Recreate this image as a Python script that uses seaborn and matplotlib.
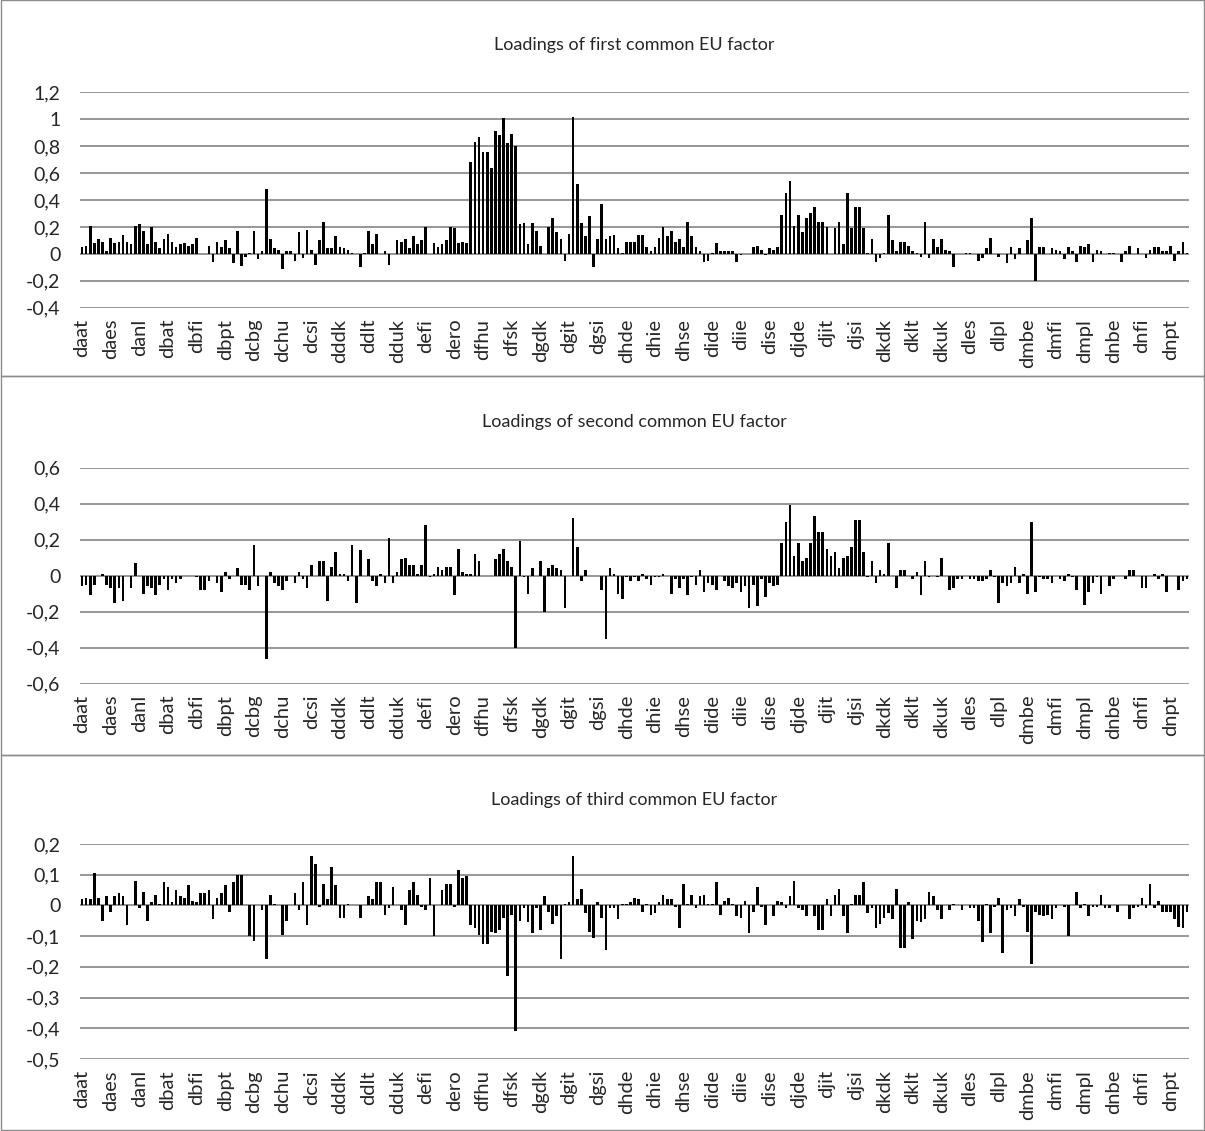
import numpy as np
import pandas as pd
import matplotlib
matplotlib.use("Agg")
import matplotlib.pyplot as plt
import seaborn as sns
from matplotlib.patches import Rectangle
from matplotlib.ticker import FuncFormatter, FixedLocator

# ---------------- data ----------------
tick_labels = ["daat", "daes", "danl", "dbat", "dbfi", "dbpt", "dcbg", "dchu", "dcsi",
               "dddk", "ddlt", "dduk", "defi", "dero", "dfhu", "dfsk", "dgdk", "dgit",
               "dgsi", "dhde", "dhie", "dhse", "dide", "diie", "dise", "djde", "djit",
               "djsi", "dkdk", "dklt", "dkuk", "dles", "dlpl", "dmbe", "dmfi", "dmpl",
               "dnbe", "dnfi", "dnpt"]
label_step = 7

titles = ["Loadings of first common EU factor",
          "Loadings of second common EU factor",
          "Loadings of third common EU factor"]

factor1 = [
    0.05, 0.06, 0.21, 0.08, 0.11, 0.09, 0.02, 0.12, 0.08, 0.09,
    0.14, 0.09, 0.07, 0.21, 0.22, 0.17, 0.07, 0.20, 0.09, 0.04,
    0.11, 0.15, 0.09, 0.05, 0.07, 0.08, 0.06, 0.07, 0.12, 0.0,
    0.0, 0.06, -0.06, 0.09, 0.05, 0.10, 0.04, -0.07, 0.17, -0.09,
    -0.02, 0.01, 0.17, -0.04, 0.02, 0.48, 0.11, 0.04, 0.03, -0.11,
    0.02, 0.02, -0.05, 0.16, -0.03, 0.18, 0.03, -0.08, 0.10, 0.24,
    0.04, 0.04, 0.13, 0.05,
    0.04, 0.03, 0.01, 0.0, -0.10, 0.01, 0.17, 0.07, 0.15, 0.0,
    0.02, -0.08, 0.0, 0.10, 0.09, 0.11, 0.04, 0.13, 0.07, 0.10,
    0.20, 0.0, 0.08, 0.05, 0.07, 0.10, 0.20, 0.19, 0.08, 0.09,
    0.08, 0.68, 0.83, 0.87, 0.76, 0.76, 0.64, 0.91, 0.88, 1.01,
    0.82, 0.89, 0.80, 0.22, 0.23, 0.07, 0.23, 0.17, 0.06, 0.0,
    0.20, 0.27, 0.16, 0.11, -0.05, 0.15, 1.02, 0.52, 0.23, 0.13,
    0.28, -0.10, 0.11, 0.37, 0.11, 0.13, 0.14, 0.04, 0.01, 0.09,
    0.09, 0.09, 0.14,
    0.14, 0.05, 0.02, 0.05, 0.12, 0.20, 0.13,
    0.17, 0.09, 0.11, 0.05, 0.24, 0.13, 0.05, 0.02, -0.06, -0.05,
    0.01, 0.08, 0.02, 0.02, 0.02, 0.02, -0.06, -0.01, 0.0, 0.0,
    0.05, 0.06, 0.03, -0.01, 0.04, 0.03, 0.05, 0.29, 0.45, 0.54,
    0.21, 0.29, 0.16, 0.27, 0.30, 0.35, 0.24, 0.24, 0.20, 0.0,
    0.19, 0.24, 0.07, 0.45, 0.19, 0.35, 0.35, 0.19, 0.01, 0.11,
    -0.06, -0.03, 0.01, 0.29, 0.10, 0.02, 0.09, 0.09, 0.06, 0.02,
    0.01, -0.02, 0.24, -0.03,
    0.11, 0.05, 0.11, 0.03, 0.02, -0.10, 0.0,
    0.0, 0.01, 0.01, 0.0, -0.05, -0.03, 0.04, 0.12, 0.0, -0.02,
    0.0, -0.07, 0.05, -0.04, 0.04, 0.0, 0.10, 0.27, -0.20, 0.05,
    0.05, 0.0, 0.04, 0.03, 0.02, -0.04, 0.05, 0.02, -0.06, 0.06,
    0.05, 0.07, -0.06, 0.03, 0.02, 0.0, 0.01, 0.01, 0.0, -0.06,
    0.02, 0.06, 0.0, 0.04, 0.0, -0.03, 0.03, 0.05, 0.05, 0.02,
    0.02, 0.06, -0.05, 0.02, 0.09, 0.01,
]

factor2 = [
    -0.06, -0.05, -0.11, -0.05, 0.0, 0.01, -0.05, -0.07, -0.15, -0.07,
    -0.14, 0.0, -0.07, 0.07, 0.0, -0.10, -0.06, -0.07, -0.11, -0.05,
    -0.02, -0.08, -0.02, -0.04, -0.02, 0.0, 0.0, 0.0, -0.01, -0.08,
    -0.08, -0.03, 0.0, -0.04, -0.09, 0.02, -0.02, 0.0, 0.04, -0.05,
    -0.05, -0.08, 0.17, -0.06, 0.0, -0.46, 0.02, -0.04, -0.06, -0.08,
    -0.03, 0.0, -0.04, 0.02, -0.02, -0.07, 0.06, 0.0, 0.08, 0.08,
    -0.14, 0.05, 0.13, 0.01,
    0.01, -0.03, 0.17, -0.15, 0.14, 0.0, 0.09, -0.03, -0.06, 0.01,
    -0.04, 0.21, -0.04, 0.02, 0.09, 0.10, 0.06, 0.06, 0.01, 0.06,
    0.28, -0.01, 0.01, 0.05, 0.03, 0.05, 0.05, -0.11, 0.15, 0.02,
    0.01, 0.01, 0.12, 0.08, 0.0, 0.0, 0.0, 0.09, 0.12, 0.15,
    0.08, 0.05, -0.40, 0.19, -0.01, -0.10, 0.04, 0.0, 0.08, -0.20,
    0.04, 0.06, 0.04, 0.03, -0.18, 0.0, 0.32, 0.16, -0.03, 0.03,
    0.0, 0.0, 0.0, -0.08, -0.35, 0.04, 0.01, -0.10, -0.13, -0.01,
    -0.03, -0.01, -0.03,
    0.01, -0.02, -0.05, -0.01, -0.01, 0.01, 0.0,
    -0.10, -0.02, -0.07, -0.02, -0.11, -0.01, -0.05, 0.03, -0.09, -0.04,
    -0.05, -0.08, 0.0, -0.03, -0.06, -0.07, -0.04, -0.09, -0.06, -0.18,
    -0.05, -0.17, -0.02, -0.12, -0.04, -0.06, -0.05, 0.18, 0.30, 0.39,
    0.11, 0.18, 0.08, 0.10, 0.18, 0.33, 0.24, 0.24, 0.15, 0.11,
    0.13, 0.04, 0.10, 0.11, 0.16, 0.31, 0.31, 0.13, -0.01, 0.08,
    -0.04, 0.03, 0.01, 0.18, 0.0, -0.07, 0.03, 0.03, 0.0, -0.02,
    0.02, -0.11, 0.08, -0.01,
    0.0, -0.01, 0.10, 0.0, -0.08, -0.07, -0.02,
    -0.02, 0.0, -0.02, -0.02, -0.03, -0.03, -0.02, 0.03, -0.01, -0.15,
    -0.04, -0.06, -0.04, 0.05, -0.04, 0.01, -0.10, 0.30, -0.09, -0.01,
    -0.02, -0.02, -0.04, 0.0, -0.02, -0.03, 0.01, -0.01, -0.08, 0.0,
    -0.16, -0.09, -0.04, -0.01, -0.10, 0.0, -0.06, -0.02, 0.0, 0.0,
    -0.02, 0.03, 0.03, 0.0, -0.07, -0.07, 0.0, 0.01, -0.02, 0.01,
    -0.09, 0.0, 0.0, -0.08, -0.03, -0.02,
]

factor3 = [
    0.02, 0.025, 0.02, 0.105, 0.025, -0.05, 0.03, -0.02, 0.03, 0.04,
    0.03, -0.065, 0.0, 0.08, -0.01, 0.045, -0.05, 0.01, 0.035, 0.005,
    0.075, 0.06, 0.01, 0.05, 0.03, 0.025, 0.065, 0.015, 0.01, 0.04,
    0.04, 0.05, -0.045, 0.025, 0.04, 0.065, -0.02, 0.075, 0.10, 0.10,
    0.0, -0.10, -0.115, 0.0, -0.015, -0.175, 0.035, 0.005, 0.0, -0.095,
    -0.05, 0.0, 0.04, -0.015, 0.075, -0.065, 0.16, 0.135, -0.005, 0.07,
    0.02, 0.125, 0.065, -0.04,
    -0.04, 0.005, 0.0, 0.0, -0.04, 0.0, 0.03, 0.02, 0.075, 0.075,
    -0.03, -0.01, 0.06, 0.0, -0.015, -0.065, 0.05, 0.075, 0.035, -0.005,
    -0.015, 0.09, -0.10, 0.0, 0.05, 0.07, 0.07, -0.005, 0.115, 0.09,
    0.095, -0.065, -0.075, -0.095, -0.125, -0.125, -0.085, -0.09, -0.08, -0.04,
    -0.23, -0.03, -0.41, -0.05, -0.01, -0.055, -0.09, -0.01, -0.08, 0.03,
    -0.02, -0.06, -0.035, -0.175, 0.005, 0.01, 0.16, 0.02, 0.055, -0.025,
    -0.085, -0.105, 0.01, -0.04, -0.145, -0.01, -0.01, -0.045, 0.005, 0.005,
    0.01, 0.025, 0.02,
    -0.02, 0.005, -0.03, -0.025, 0.01, 0.035, 0.02,
    0.02, -0.005, -0.075, 0.07, 0.005, 0.035, -0.01, 0.03, 0.035, 0.005,
    0.005, 0.075, -0.03, 0.015, 0.025, 0.005, -0.035, -0.04, 0.015, -0.09,
    -0.02, 0.06, -0.005, -0.065, 0.0, -0.035, 0.015, 0.01, -0.01, 0.03,
    0.08, -0.01, -0.015, -0.035, 0.0, -0.035, -0.08, -0.08, 0.02, -0.035,
    0.035, 0.055, -0.035, -0.09, 0.005, 0.035, 0.035, 0.075, -0.025, -0.01,
    -0.075, -0.06, -0.04, -0.025, -0.045, 0.055, -0.14, -0.14, 0.01, -0.11,
    -0.05, -0.055, -0.045, 0.045,
    0.03, -0.015, -0.045, 0.0, -0.015, 0.005, 0.0,
    -0.015, 0.0, -0.01, -0.01, -0.05, -0.12, 0.005, -0.09, -0.005, 0.025,
    -0.155, -0.015, -0.01, -0.035, 0.02, -0.005, -0.085, -0.19, -0.02, -0.03,
    -0.035, -0.03, -0.045, -0.01, 0.0, -0.005, -0.10, 0.0, 0.045, -0.01,
    0.005, -0.035, -0.005, -0.005, 0.035, -0.01, -0.01, 0.0, -0.02, 0.0,
    0.0, -0.045, -0.01, -0.005, 0.025, -0.01, 0.07, -0.01, 0.015, -0.02,
    -0.02, -0.02, -0.045, -0.07, -0.075, -0.02,
]

yticks1 = [1.2, 1.0, 0.8, 0.6, 0.4, 0.2, 0.0, -0.2, -0.4]
yticks2 = [0.6, 0.4, 0.2, 0.0, -0.2, -0.4, -0.6]
yticks3 = [0.2, 0.1, 0.0, -0.1, -0.2, -0.3, -0.4, -0.5]

# ---------------- style ----------------
sns.set_theme(style="white")
plt.rcParams["font.family"] = ["Lato", "DejaVu Sans"]

W, H = 1205, 1131
fig = plt.figure(figsize=(W / 100, H / 100), dpi=100)

n = min(len(factor1), len(factor2), len(factor3))
positions = np.arange(n)

# panel geometry in pixels: (plot top, plot bottom, title y, panel top, panel bottom)
panels = [
    (factor1, yticks1, titles[0], 92.3, 307.7, 45, 0, 376),
    (factor2, yticks2, titles[1], 467.7, 683.7, 422, 376, 755),
    (factor3, yticks3, titles[2], 844.0, 1059.0, 800, 755, 1130),
]
plot_left, plot_right = 80, 1189

grid_color = "#969696"
text_color = "#262626"


def fmt(v, pos=None):
    if abs(v) < 1e-9:
        return "0"
    if abs(v - round(v)) < 1e-9:
        return str(int(round(v)))
    return f"{v:.1f}".replace(".", ",")


for vals, yt, title, ptop, pbot, ty, ftop, fbot in panels:
    ax = fig.add_axes([plot_left / W, 1 - pbot / H,
                       (plot_right - plot_left) / W, (pbot - ptop) / H])
    df = pd.DataFrame({"idx": positions, "value": vals[:n]})
    sns.barplot(data=df, x="idx", y="value", color="black", saturation=1,
                width=0.65, ax=ax, linewidth=0, errorbar=None)
    ax.set_xlim(-0.5, n - 0.5)
    ax.set_ylim(min(yt), max(yt))
    ax.yaxis.set_major_locator(FixedLocator(yt))
    ax.yaxis.set_major_formatter(FuncFormatter(fmt))
    ax.set_xticks(np.arange(len(tick_labels)) * label_step)
    ax.set_xticklabels(tick_labels, rotation=90)
    ax.tick_params(axis="x", length=0, pad=8, labelsize=14.5, labelcolor=text_color)
    ax.tick_params(axis="y", length=0, pad=14, labelsize=14, labelcolor=text_color)
    for s in ax.spines.values():
        s.set_visible(False)
    ax.set_axisbelow(True)
    ax.yaxis.grid(True, color=grid_color, linewidth=1.4)
    ax.xaxis.grid(False)
    ax.set_xlabel("")
    ax.set_ylabel("")
    fig.text((plot_left + plot_right) / 2 / W, 1 - ty / H, title,
             ha="center", va="center", fontsize=13, color=text_color)
    fig.add_artist(Rectangle((0.5 / W, 1 - fbot / H), (W - 1.5) / W, (fbot - ftop) / H,
                             transform=fig.transFigure, fill=False,
                             edgecolor="#8c8c8c", linewidth=1.0))

fig.savefig("out.png", dpi=100, facecolor="white")
